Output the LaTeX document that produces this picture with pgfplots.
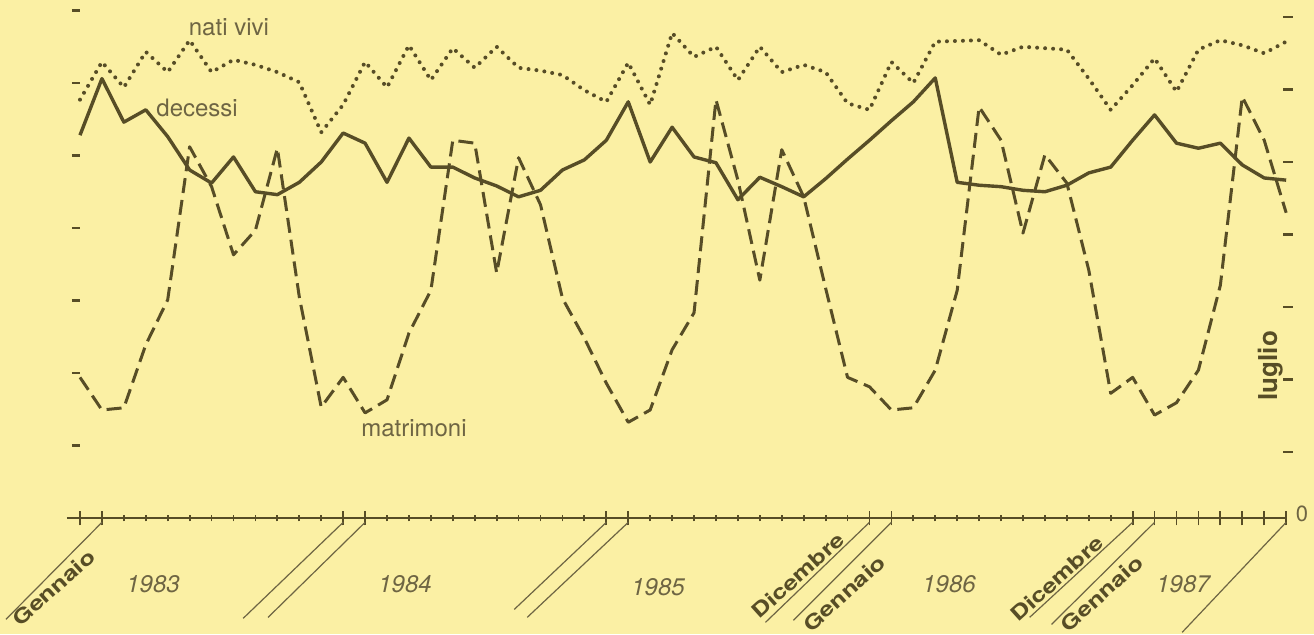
\documentclass[border=0pt]{standalone}
\usepackage{pgfplots}
\usepackage{pgfplotstable}
\pgfplotsset{compat=1.18}
\usepackage{fontspec}
\setmainfont{TeX Gyre Heros}
\newfontfamily\monthfont[FakeStretch=1.28]{TeX Gyre Heros}

\definecolor{paper}{HTML}{FBF0A4}
\definecolor{ink}{HTML}{574D26}
\definecolor{softink}{HTML}{6E6543}

% mesi: 0 = dicembre 1982 ... 55 = luglio 1987
\pgfplotstableread{
m nati decessi matrimoni
0 5.77 5.28 1.94
1 6.29 6.06 1.49
2 5.94 5.46 1.52
3 6.43 5.63 2.39
4 6.15 5.26 3.01
5 6.59 4.80 5.12
6 6.15 4.62 4.57
7 6.32 4.98 3.63
8 6.25 4.50 3.97
9 6.15 4.46 5.10
10 6.01 4.63 3.05
11 5.32 4.91 1.53
12 5.70 5.31 1.94
13 6.29 5.17 1.45
14 5.94 4.63 1.63
15 6.52 5.24 2.55
16 6.04 4.84 3.14
17 6.48 4.84 5.21
18 6.21 4.69 5.17
19 6.50 4.58 3.38
20 6.21 4.43 4.97
21 6.17 4.52 4.32
22 6.11 4.80 3.03
23 5.90 4.94 2.48
24 5.74 5.21 1.86
25 6.28 5.74 1.32
26 5.70 4.91 1.49
27 6.69 5.39 2.32
28 6.36 4.98 2.83
29 6.50 4.90 5.77
30 6.04 4.39 4.66
31 6.50 4.70 3.28
32 6.15 4.57 5.08
33 6.25 4.43 4.43
34 6.15 4.68 3.17
35 5.72 4.95 1.94
36 5.63 5.21 1.81
37 6.29 5.48 1.49
38 6.00 5.74 1.52
39 6.57 6.07 2.04
40 6.58 4.63 3.14
41 6.59 4.59 5.67
42 6.39 4.57 5.21
43 6.50 4.52 3.93
44 6.48 4.50 5.01
45 6.46 4.59 4.62
46 6.06 4.76 3.42
47 5.63 4.84 1.72
48 5.97 5.21 1.94
49 6.34 5.56 1.42
50 5.88 5.17 1.59
51 6.46 5.10 2.04
52 6.59 5.17 3.21
53 6.52 4.87 5.81
54 6.41 4.69 5.21
55 6.57 4.66 4.21
}\datatab

\begin{document}
\begin{tikzpicture}[
    month/.style={ink, rotate=42, inner sep=0.5pt, font=\monthfont\bfseries\fontsize{10}{11}\selectfont},
    year/.style={softink, font=\itshape\fontsize{12}{14}\selectfont},
  ]
\useasboundingbox (-40pt,-58pt) rectangle (617pt,259pt);
\fill[paper] (-40pt,-58pt) rectangle (617pt,259pt);
\begin{axis}[
    anchor=south west, at={(0pt,0pt)},
    x=10.965pt, y=36.25pt,
    xmin=0, xmax=55, ymin=0, ymax=7.2,
    hide axis, clip=false,
  ]
  % serie
  \addplot[ink, line width=2pt, line cap=round, dash pattern=on 0pt off 4pt]
    table[x=m, y=nati] {\datatab};
  \addplot[ink, line width=1.7pt, line join=round]
    table[x=m, y=decessi] {\datatab};
  \addplot[ink, line width=1.5pt, line join=round, dash pattern=on 7.5pt off 3.5pt]
    table[x=m, y=matrimoni] {\datatab};

  % tacche verticali
  \pgfplotsinvokeforeach{1,...,7}{
    \draw[ink, line width=1.3pt] (axis cs:0,#1) ++(-4pt,0) -- ++(4pt,0);
    \draw[ink, line width=1.3pt] (axis cs:55,#1-0.09) ++(-1.5pt,0) -- ++(5pt,0);
  }

  % asse dei tempi
  \draw[ink, line width=1pt] (axis cs:-0.6,0) -- (axis cs:55,0);
  \pgfplotsinvokeforeach{0,...,55}{
    \draw[ink, line width=0.9pt] (axis cs:#1,-0.045) -- (axis cs:#1,0.045);
  }
  \pgfplotsinvokeforeach{0,1,12,13,24,25,36,37,48,49,50,51,52,53,54,55}{
    \draw[ink, line width=0.9pt] (axis cs:#1,-0.1) -- (axis cs:#1,0.09);
  }
  \draw[softink, line width=0.6pt] (axis cs:1,-0.06) -- ++(-48pt,-48.5pt);
  \draw[softink, line width=0.6pt] (axis cs:12,-0.06) -- ++(-50pt,-48pt);
  \draw[softink, line width=0.6pt] (axis cs:13,-0.06) -- ++(-48.5pt,-47.5pt);
  \draw[softink, line width=0.6pt] (axis cs:24,-0.06) -- ++(-46pt,-43.5pt);
  \draw[softink, line width=0.6pt] (axis cs:25,-0.06) -- ++(-50.5pt,-47.5pt);
  \draw[softink, line width=0.6pt] (axis cs:36,-0.06) -- ++(-52pt,-50pt);
  \draw[softink, line width=0.6pt] (axis cs:37,-0.06) -- ++(-49pt,-49pt);
  \draw[softink, line width=0.6pt] (axis cs:48,-0.06) -- ++(-51.5pt,-47.5pt);
  \draw[softink, line width=0.6pt] (axis cs:49,-0.06) -- ++(-51.5pt,-51pt);
  \draw[softink, line width=0.6pt] (axis cs:55,-0.06) -- ++(-52pt,-55pt);

  % mesi
  \node[month] at (axis cs:-1.2,-0.96) {Gennaio};
  \node[month] at (axis cs:32.75,-0.79) {Dicembre};
  \node[month] at (axis cs:34.85,-1.04) {Gennaio};
  \node[month] at (axis cs:44.55,-0.83) {Dicembre};
  \node[month] at (axis cs:46.6,-1.04) {Gennaio};

  % anni
  \node[year] at (axis cs:3.33,-0.91) {1983};
  \node[year] at (axis cs:14.82,-0.91) {1984};
  \node[year] at (axis cs:26.36,-0.95) {1985};
  \node[year] at (axis cs:39.63,-0.91) {1986};
  \node[year] at (axis cs:50.3,-0.91) {1987};

  \node[softink, font=\fontsize{11}{13}\selectfont] at (axis cs:55.72,0.055) {0};
  \node[ink, rotate=90, font=\bfseries\fontsize{13}{15}\selectfont] at (axis cs:54.3,2.10) {luglio};

  % etichette delle serie
  \node[softink, font=\fontsize{12}{14}\selectfont] at (axis cs:6.79,6.77) {nati vivi};
  \node[softink, font=\fontsize{12}{14}\selectfont] at (axis cs:5.34,5.66) {decessi};
  \node[softink, font=\fontsize{12}{14}\selectfont] at (axis cs:15.23,1.24) {matrimoni};
\end{axis}
\end{tikzpicture}
\end{document}
